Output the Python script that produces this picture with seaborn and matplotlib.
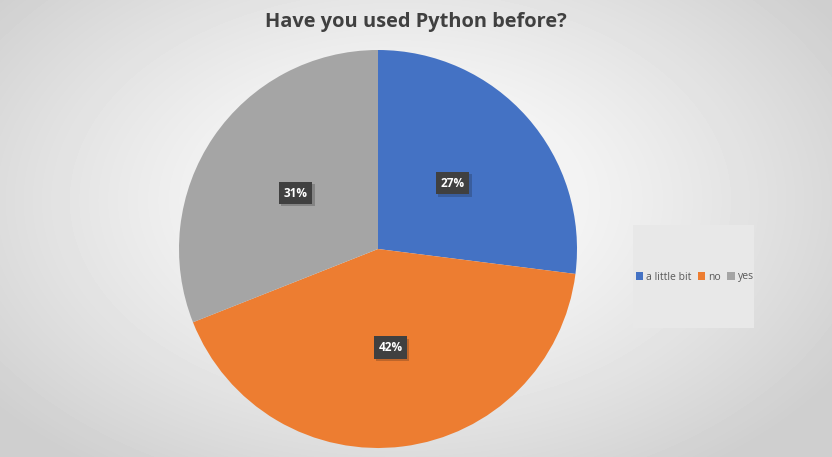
import numpy as np
import matplotlib
matplotlib.use("Agg")
import matplotlib.pyplot as plt
import matplotlib.patheffects as pe
from matplotlib.patches import Rectangle
import seaborn as sns

categories = ["a little bit", "no", "yes"]
shares = [27, 42, 31]
colors = ["#4472C4", "#ED7D31", "#A5A5A5"]
title = "Have you used Python before?"

sns.set_theme(style="white")
plt.rcParams["font.family"] = ["Open Sans", "DejaVu Sans"]

W, H = 832, 457
fig = plt.figure(figsize=(W / 100, H / 100), dpi=100)

# radial gradient background
bg = fig.add_axes([0, 0, 1, 1], zorder=0)
yy, xx = np.mgrid[0:H, 0:W]
r = np.sqrt(((xx - 400) / 520.0) ** 2 + ((yy - 200) / 330.0) ** 2)
shade = 1.0 - 0.19 * np.clip(r, 0, 1) ** 1.3
bg.imshow(shade, cmap="gray", vmin=0, vmax=1, aspect="auto", interpolation="bilinear")
bg.set_axis_off()

# legend box
fig.patches.append(Rectangle((633 / W, 1 - 328 / H), 121 / W, 103 / H,
                             transform=fig.transFigure, facecolor="#e8e8e8",
                             edgecolor="none", zorder=1))

ax = fig.add_axes([179 / W, 9 / H, 398 / W, 398 / H], zorder=2)
wedges, texts, autotexts = ax.pie(
    shares, colors=colors, startangle=90, counterclock=False,
    autopct=lambda p: f"{p:.0f}%", pctdistance=0.5, radius=1,
    wedgeprops=dict(linewidth=0))
ax.set_xlim(-1, 1)
ax.set_ylim(-1, 1)
ax.set_aspect("equal")
ax.set_axis_off()

for t in autotexts:
    t.set_color("white")
    t.set_fontsize(8.5)
    t.set_fontweight("bold")
    t.set_bbox(dict(boxstyle="square,pad=0.4", facecolor="#404040", edgecolor="none"))
    t.get_bbox_patch().set_path_effects([pe.SimplePatchShadow(offset=(1.5, -1.5), alpha=0.22), pe.Normal()])

fig.text(416 / W, 1 - 22 / H, title, ha="center", va="center",
         fontsize=14.4, fontweight="bold", color="#404040")

leg = fig.legend(wedges, categories, loc="center", bbox_to_anchor=(695 / W, 1 - 277 / H),
                 ncol=3, frameon=False, fontsize=7.5, handlelength=0.7, handleheight=0.7,
                 handletextpad=0.3, columnspacing=0.6, labelcolor="#595959")
leg.set_zorder(3)

fig.savefig("out.png", dpi=100)
